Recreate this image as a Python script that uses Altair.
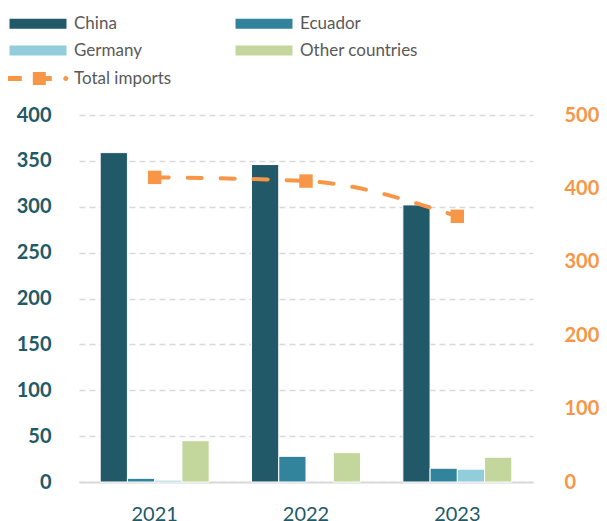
import altair as alt
import pandas as pd

years = ["2021", "2022", "2023"]
countries = ["China", "Ecuador", "Germany", "Other countries"]
china = [359, 346, 302]
ecuador = [4, 28, 15]
germany = [2, None, 14]
other = [45, 32, 27]
total_imports = [415, 410, 362]

colors = ["#215968", "#31849B", "#92CDDC", "#C3D69B"]
orange = "#F79646"
teal = "#215968"
FONT = "Lato"

# legend order (filled column-major by Vega): China, Germany | Ecuador, Other countries
legend_order = ["China", "Germany", "Ecuador", "Other countries"]
legend_colors = [colors[countries.index(c)] for c in legend_order]

rows = []
for series, vals in zip(countries, [china, ecuador, germany, other]):
    for y, v in zip(years, vals):
        rows.append({"year": y, "country": series, "value": v})
bars_df = pd.DataFrame(rows)
line_df = pd.DataFrame({"year": years, "total": total_imports, "series": ["Total imports"] * 3})

rect_sym = "M-1,-1L10.4,-1L10.4,1L-1,1Z"
line_sym = ("M-1.5,-0.5L1.46,-0.5L1.46,0.5L-1.5,0.5Z"
            "M3.66,-1.3L6.26,-1.3L6.26,-0.5L7.46,-0.5L7.46,0.5L6.26,0.5L6.26,1.3L3.66,1.3Z"
            "M9.76,0A0.5,0.5 0 1,0 10.76,0A0.5,0.5 0 1,0 9.76,0Z")

xscale = alt.Scale(paddingInner=0.28, paddingOuter=0.14)
xaxis = alt.Axis(title=None, labelColor=teal, labelFontSize=20, labelFont=FONT,
                 labelPadding=22, ticks=False, domain=True, domainColor="#D9D9D9",
                 domainWidth=2, grid=False, labelAngle=0)

bars = alt.Chart(bars_df).mark_bar(stroke="white", strokeWidth=1).encode(
    x=alt.X("year:N", scale=xscale, axis=xaxis, sort=years),
    xOffset=alt.XOffset("country:N", sort=countries,
                        scale=alt.Scale(domain=countries, paddingInner=0, paddingOuter=0)),
    y=alt.Y("value:Q", scale=alt.Scale(domain=[0, 400]),
            axis=alt.Axis(title=None, values=list(range(0, 401, 50)), labelColor=teal,
                          labelFontSize=20, labelFontWeight="bold", labelFont=FONT,
                          labelPadding=28, ticks=False, domain=False,
                          gridColor="#D9D9D9", gridDash=[6, 4], gridWidth=1.5)),
    color=alt.Color("country:N",
                    scale=alt.Scale(domain=legend_order, range=legend_colors),
                    legend=alt.Legend(title=None, orient="none", legendX=-73, legendY=-100,
                                      columns=2, columnPadding=90, rowPadding=9,
                                      symbolType=rect_sym, symbolSize=100,
                                      symbolStrokeWidth=0, labelFontSize=17,
                                      labelFont=FONT, labelColor="#595959",
                                      labelOffset=51, padding=0)),
)

yright = alt.Y("total:Q", scale=alt.Scale(domain=[0, 500]),
               axis=alt.Axis(title=None, orient="right", values=list(range(0, 501, 100)),
                             labelColor=orange, labelFontSize=20, labelFontWeight="bold",
                             labelFont=FONT, labelPadding=31, ticks=False, domain=False,
                             grid=False))

line = alt.Chart(line_df).mark_line(color=orange, strokeWidth=4, strokeDash=[14, 19],
                                    strokeCap="round", interpolate="monotone").encode(
    x=alt.X("year:N", sort=years),
    y=yright,
)
points = alt.Chart(line_df).mark_point(shape="square", filled=True, size=180, opacity=1).encode(
    x=alt.X("year:N", sort=years),
    y=yright,
    color=alt.Color("series:N", scale=alt.Scale(domain=["Total imports"], range=[orange]),
                    legend=alt.Legend(title=None, orient="none", legendX=-73, legendY=-45,
                                      symbolType=line_sym, symbolSize=100,
                                      symbolStrokeWidth=0, symbolFillColor=orange,
                                      labelFontSize=17, labelFont=FONT,
                                      labelColor="#595959", labelOffset=51, padding=0)),
)

chart = alt.layer(bars, alt.layer(line, points)).resolve_scale(
    y="independent", color="independent"
).properties(
    width=454, height=367,
    autosize=alt.AutoSizeParams(type="none"),
    padding={"left": 71, "top": 107, "right": 66, "bottom": 40},
).configure_view(stroke=None)

chart.save("out.html", embed_options={"renderer": "svg", "actions": False})
